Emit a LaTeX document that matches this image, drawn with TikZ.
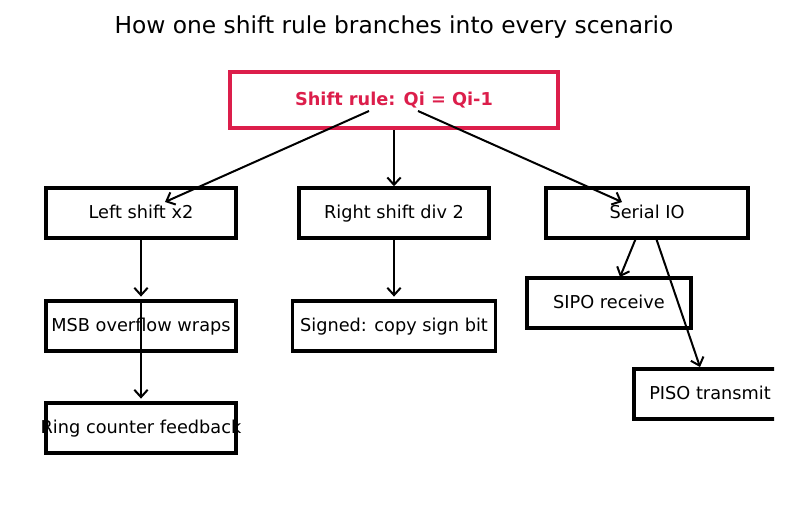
\documentclass[tikz,border=0pt]{standalone}
\usepackage{fontspec}
\setmainfont{DejaVu Sans}
\usetikzlibrary{arrows.meta}
\definecolor{rulered}{RGB}{220,30,75}
\tikzset{
  box/.style={draw, line width=2.6pt, inner sep=0pt, minimum height=37.5pt, text height=0.9em, text depth=0.15em, font=\fontsize{13.3}{15}\selectfont},
  link/.style={-{Straight Barb[length=5.5pt,width=10pt]}, line width=1.5pt},
}

\begin{document}
\begin{tikzpicture}[x=0.75pt, y=-0.75pt]
	\useasboundingbox (0,0) rectangle (787,510);
	\node[font=\fontsize{17.5}{20}\selectfont] (title) at (394,27) {How one shift rule branches into every scenario};
	\node[box, draw=rulered, text=rulered, line width=3pt, minimum width=246pt, minimum height=42pt, font=\fontsize{13.3}{15}\selectfont\bfseries] (root) at (394,100) {Shift rule: Qi = Qi-1};
	% second row
	\node[box, minimum width=142.5pt] (left) at (141,213) {Left shift x2};
	\node[box, minimum width=142.5pt] (right) at (394,213) {Right shift div 2};
	\node[box, minimum width=151.5pt] (serial) at (647,213) {Serial IO};
	% leaves
	\node[box, minimum width=142.5pt] (msb) at (141,326) {MSB overflow wraps};
	\node[box, minimum width=142.5pt] (ring) at (141,428) {\makebox[0pt]{Ring counter feedback}};
	\node[box, minimum width=152pt] (signed) at (394,326) {Signed: copy sign bit};
	\node[box, minimum width=123pt] (sipo) at (609,303) {SIPO receive};
	\begin{scope}
		\clip (0,0) rectangle (774,510);
		\node[box, minimum width=114pt] (piso) at (710,394) {PISO transmit};
	\end{scope}
	% arrow ends
	\coordinate (rootL) at (369,111);
	\coordinate (rootR) at (418,111);
	\coordinate (leftIn) at (165,202);
	\coordinate (serialIn) at (622,202);
	\coordinate (serialA) at (636,238);
	\coordinate (serialB) at (656,238);
	\coordinate (sipoIn) at (620,277);
	\coordinate (pisoIn) at (700,367);
	\draw[link] (rootL) -- (leftIn);
	\draw[link] (root.south) -- (right.north);
	\draw[link] (rootR) -- (serialIn);
	\draw[link, shorten >=2pt] (left.south) -- (msb.north);
	\draw[link, shorten >=2pt] (msb.north) -- (ring.north);
	\draw[link, shorten >=2pt] (right.south) -- (signed.north);
	\draw[link] (serialA) -- (sipoIn);
	\draw[link] (serialB) -- (pisoIn);
\end{tikzpicture}
\end{document}
